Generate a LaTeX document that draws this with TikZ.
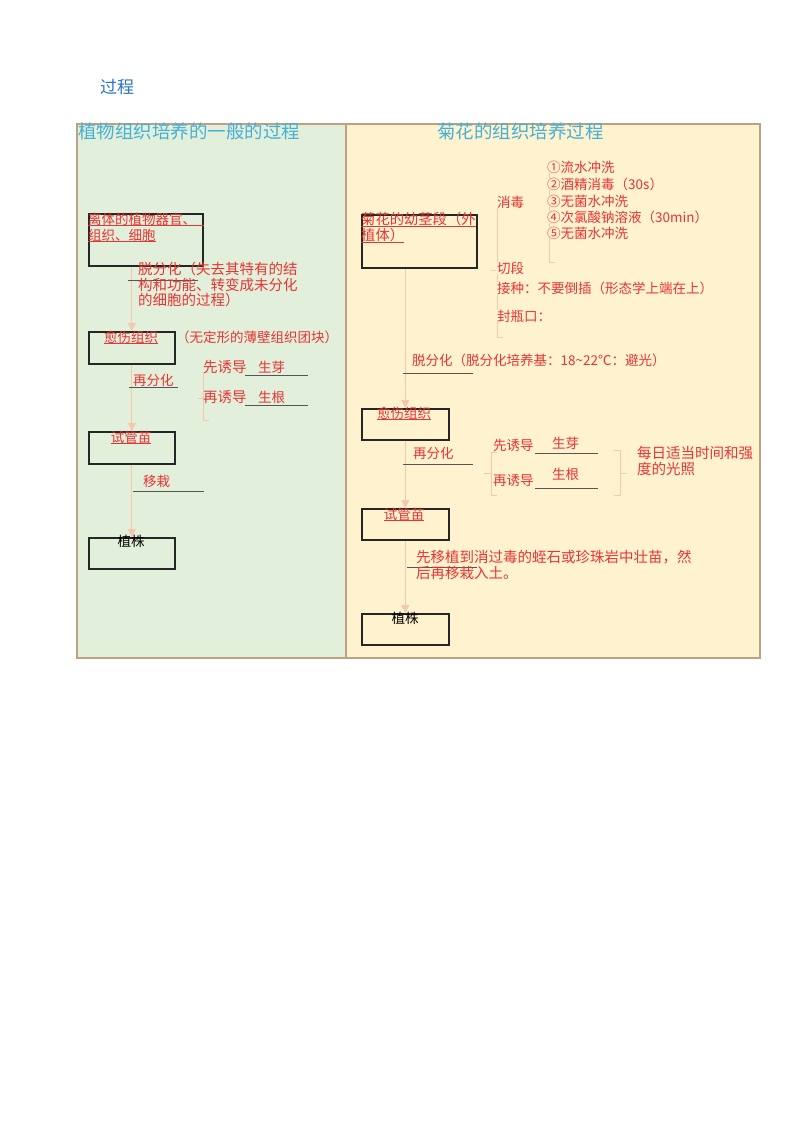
\documentclass[tikz,border=0pt]{standalone}
\usepackage{fontspec}
\setmainfont{Noto Sans CJK SC}
\usetikzlibrary{arrows.meta}
\definecolor{txtred}{RGB}{232,52,52}
\definecolor{hdrcyan}{RGB}{70,175,215}
\definecolor{ttlblue}{RGB}{40,115,205}
\definecolor{lgreen}{RGB}{226,239,218}
\definecolor{lyellow}{RGB}{255,242,206}
\definecolor{bordc}{RGB}{190,160,130}
\definecolor{peach}{RGB}{243,200,175}
\definecolor{ulgray}{RGB}{85,85,85}
\begin{document}
\begin{tikzpicture}[x=1pt,y=-1pt,
  panel/.style={draw=bordc, line width=1.8pt, anchor=north west, inner sep=0},
  box/.style={draw=black!85, line width=1.6pt, anchor=north west, inner sep=0},
  rt/.style={text=txtred, font=\fontsize{13.5}{16}\selectfont, inner sep=0},
  rtw/.style={rt, font=\fontsize{14.5}{16}\selectfont},
  bt/.style={text=black, font=\fontsize{13.5}{16}\selectfont, inner sep=0},
  hdr/.style={text=hdrcyan, font=\fontsize{18.5}{20}\selectfont, inner sep=0},
  arr/.style={draw=peach, line width=1pt, -{Triangle[length=8pt,width=8pt]}},
  brk/.style={draw=peach, line width=1pt},
  ul/.style={draw=ulgray, line width=0.9pt},
  uln/.style={append after command={(\tikzlastnode.south west) edge[draw=txtred, line width=0.9pt] (\tikzlastnode.south east)}}]
\useasboundingbox (0,0) rectangle (800,1132);
\fill[white] (0,0) rectangle (800,1132);

% title
\node[anchor=west, inner sep=0, text=ttlblue, font=\fontsize{17}{19}\selectfont] (ttl) at (100,87) {过程};

% panels
\node[panel, fill=lgreen, minimum width=269, minimum height=534] (lp) at (76,123) {};
\node[panel, fill=lyellow, minimum width=414, minimum height=534] (rp) at (345,123) {};
\node[hdr, anchor=west] (lh) at (78,131) {植物组织培养的一般的过程};
\node[hdr, anchor=west] (rh) at (437,131) {菊花的组织培养过程};

% ---------------- left panel ----------------
\node[box, minimum width=114, minimum height=52] (b1) at (88,213) {};
\node[box, minimum width=86, minimum height=32] (b2) at (88,331) {};
\node[box, minimum width=86, minimum height=32] (b3) at (88,431) {};
\node[box, minimum width=86, minimum height=31] (b4) at (88,537) {};

\node[rt, anchor=west] (b1t1) at (88,219) {离体的植物器官、};
\draw[draw=txtred, line width=0.9pt] (b1t1.south west) -- (b1t1.south west -| b1.east);
\node[rt, uln, anchor=west] (b1t2) at (88,235) {组织、细胞};
\node[rt, uln] (b2t) at (131,337) {愈伤组织};
\node[rt, uln] (b3t) at (131,437) {试管苗};
\node[bt] (b4t) at (131,541) {植株};

\draw[arr] (b1.south -| b2.north) -- (b2.north);
\draw[arr] (b2.south) -- (b3.north);
\draw[arr] (b3.south) -- (b4.north);

\draw[ul] (128,280) -- (198,280);
\node[rtw, anchor=west] (l1a) at (138,269) {脱分化（失去其特有的结};
\node[rtw, anchor=west] (l1b) at (138,285) {构和功能、转变成未分化};
\node[rtw, anchor=west] (l1c) at (138,300) {的细胞的过程）};
\node[rt, anchor=west] (l2) at (176,337) {（无定形的薄壁组织团块）};

\draw[ul] (129,387) -- (178,387);
\node[rt, anchor=west] (l3) at (133,380) {再分化};
\draw[brk] (209,372) -- (203,372) -- (203,420) -- (209,420);
\draw[brk] (198,398) -- (203,398);
\node[rtw, anchor=west] (l4) at (203,367) {先诱导};
\node[rt, anchor=west] (l5) at (258,367) {生芽};
\draw[ul] (245,375) -- (308,375);
\node[rtw, anchor=west] (l6) at (203,397) {再诱导};
\node[rt, anchor=west] (l7) at (258,397) {生根};
\draw[ul] (245,405) -- (308,405);

\draw[ul] (133,491) -- (204,491);
\node[rt, anchor=west] (l8) at (143,481) {移栽};

% ---------------- right panel ----------------
\node[box, minimum width=115, minimum height=53] (r1) at (361,214) {};
\node[box, minimum width=87, minimum height=31] (r2) at (361,408) {};
\node[box, minimum width=87, minimum height=31] (r3) at (361,508) {};
\node[box, minimum width=87, minimum height=31] (r4) at (361,613) {};

\node[rt, uln, anchor=west, font=\fontsize{14.3}{16}\selectfont] (r1t1) at (361,219) {菊花的幼茎段（外};
\node[rt, uln, anchor=west, font=\fontsize{14.3}{16}\selectfont] (r1t2) at (361,235) {植体）};
\node[rt, uln] (r2t) at (404,413) {愈伤组织};
\node[rt, uln] (r3t) at (404,514) {试管苗};
\node[bt] (r4t) at (405,618) {植株};

\draw[arr] (r1.south -| r2.north) -- (r2.north);
\draw[arr] (r2.south) -- (r3.north);
\draw[arr] (r3.south) -- (r4.north);

% sterilisation bracket
\draw[brk] (497,208) -- (497,337) -- (503,337);
\draw[brk] (491,270) -- (497,270);
\draw[brk] (549,165) -- (549,262) -- (555,262);
\node[rt, anchor=west] (s0) at (497,202) {消毒};
\begin{scope}[every node/.style={rt, anchor=west, fill=lyellow, inner xsep=1pt, inner ysep=0}]
\node (s1) at (546,167) {①流水冲洗};
\node (s2) at (546,184) {②酒精消毒（30s）};
\node (s3) at (546,201) {③无菌水冲洗};
\node (s4) at (546,217) {④次氯酸钠溶液（30min）};
\node (s5) at (546,233) {⑤无菌水冲洗};
\node (s6) at (496,268) {切段};
\node (s7) at (496,288) {接种：不要倒插（形态学上端在上）};
\node (s8) at (496,316) {封瓶口：};
\end{scope}

\node[rt, anchor=west] (r5) at (412,360) {脱分化（脱分化培养基：18\textasciitilde22℃：避光）};
\draw[ul] (403,373) -- (473,373);

\node[rt, anchor=west] (r6) at (413,453) {再分化};
\draw[ul] (403,464) -- (473,464);
\draw[brk] (497,452) -- (491,452) -- (491,495) -- (497,495);
\draw[brk] (484,473) -- (491,473);
\node[rt, anchor=west] (r7) at (493,445) {先诱导};
\node[rt, anchor=west] (r8) at (552,443) {生芽};
\draw[ul] (535,453) -- (598,453);
\node[rt, anchor=west] (r9) at (493,480) {再诱导};
\node[rt, anchor=west] (r10) at (552,474) {生根};
\draw[ul] (535,488) -- (598,488);
\draw[brk] (614,450) -- (620,450) -- (620,495) -- (614,495);
\draw[brk] (620,473) -- (627,473);
\node[rtw, anchor=west] (r11) at (637,453) {每日适当时间和强};
\node[rtw, anchor=west] (r12) at (637,469) {度的光照};

\draw[ul] (407,567) -- (477,567);
\node[rtw, anchor=west] (r13) at (416,557) {先移植到消过毒的蛭石或珍珠岩中壮苗，然};
\node[rtw, anchor=west] (r14) at (416,573) {后再移栽入土。};
\end{tikzpicture}
\end{document}
